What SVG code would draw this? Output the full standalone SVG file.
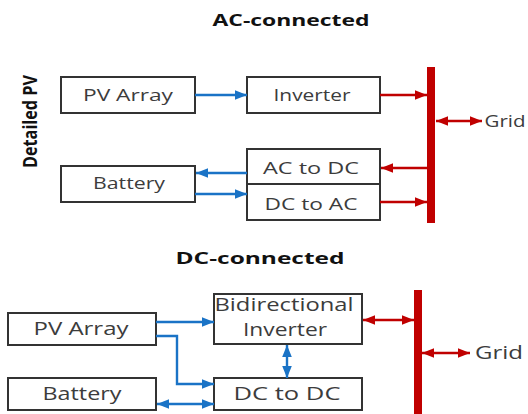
<svg xmlns="http://www.w3.org/2000/svg" width="528" height="414" viewBox="0 0 528 414">
<style>
.box{fill:#fff;stroke:#333;stroke-width:2}
.lbl{font-family:"Open Sans","Liberation Sans",sans-serif;font-size:17px;fill:#3c3c3c;text-anchor:middle}
.ttl{font-family:"Open Sans","Liberation Sans",sans-serif;font-size:16px;font-weight:bold;fill:#111;text-anchor:middle}
.b{stroke:#1a73c6;stroke-width:2.4;fill:none}
.r{stroke:#c00000;stroke-width:2.4;fill:none}
.bus{fill:#c00000}
</style>
<defs>
<marker id="ab" viewBox="0 0 10 8" refX="10" refY="4" markerWidth="12" markerHeight="10" orient="auto-start-reverse" markerUnits="userSpaceOnUse"><path d="M0,0 L10,4 L0,8 z" fill="#1a73c6"/></marker>
<marker id="ar" viewBox="0 0 10 8" refX="10" refY="4" markerWidth="12" markerHeight="10" orient="auto-start-reverse" markerUnits="userSpaceOnUse"><path d="M0,0 L10,4 L0,8 z" fill="#c00000"/></marker>
</defs>

<text class="ttl" x="291" y="26" textLength="157" lengthAdjust="spacingAndGlyphs">AC-connected</text>
<text class="ttl" x="0" y="0" transform="translate(37,121.5) rotate(-90)" style="font-size:20px" textLength="93" lengthAdjust="spacingAndGlyphs">Detailed PV</text>
<text class="ttl" x="260" y="264" textLength="169" lengthAdjust="spacingAndGlyphs">DC-connected</text>

<g id="ac-bus"><rect class="bus" x="427" y="67" width="8" height="156"/></g>
<g id="dc-bus"><rect class="bus" x="414" y="290" width="8" height="124"/></g>

<g id="ac-pv"><rect class="box" x="61" y="77" width="134" height="36"/><text class="lbl" x="128" y="101" textLength="90" lengthAdjust="spacingAndGlyphs">PV Array</text></g>
<g id="ac-inverter"><rect class="box" x="247" y="77" width="133" height="36"/><text class="lbl" x="312" y="101" textLength="77" lengthAdjust="spacingAndGlyphs">Inverter</text></g>
<g id="ac-actodc"><rect class="box" x="247" y="149" width="133" height="35"/><text class="lbl" x="311" y="174" textLength="96" lengthAdjust="spacingAndGlyphs">AC to DC</text></g>
<g id="ac-dctoac"><rect class="box" x="247" y="184" width="133" height="36"/><text class="lbl" x="311" y="210" textLength="93" lengthAdjust="spacingAndGlyphs">DC to AC</text></g>
<g id="ac-battery"><rect class="box" x="61" y="166" width="134" height="36"/><text class="lbl" x="129" y="189" textLength="72" lengthAdjust="spacingAndGlyphs">Battery</text></g>
<g id="ac-grid"><text class="lbl" x="505" y="127" textLength="41" lengthAdjust="spacingAndGlyphs">Grid</text></g>

<g id="dc-pv"><rect class="box" x="8" y="313" width="148" height="32"/><text class="lbl" x="81" y="335" style="font-size:18px" textLength="95" lengthAdjust="spacingAndGlyphs">PV Array</text></g>
<g id="dc-battery"><rect class="box" x="8" y="378" width="148" height="32"/><text class="lbl" x="82" y="400" style="font-size:18px" textLength="79" lengthAdjust="spacingAndGlyphs">Battery</text></g>
<g id="dc-bidir"><rect class="box" x="214" y="294" width="148" height="50"/><text class="lbl" x="284" y="311" style="font-size:18px" textLength="139" lengthAdjust="spacingAndGlyphs">Bidirectional</text><text class="lbl" x="285" y="336" style="font-size:18px" textLength="84" lengthAdjust="spacingAndGlyphs">Inverter</text></g>
<g id="dc-dctodc"><rect class="box" x="214" y="378" width="148" height="32"/><text class="lbl" x="287" y="400" style="font-size:18px" textLength="107" lengthAdjust="spacingAndGlyphs">DC to DC</text></g>
<g id="dc-grid"><text class="lbl" x="499" y="359" style="font-size:18px" textLength="48" lengthAdjust="spacingAndGlyphs">Grid</text></g>

<g id="connectors">
<line class="b" x1="195" y1="95" x2="247" y2="95" marker-end="url(#ab)"/>
<line class="r" x1="380" y1="95" x2="427" y2="95" marker-end="url(#ar)"/>
<line class="r" x1="436" y1="121" x2="482" y2="121" marker-start="url(#ar)" marker-end="url(#ar)"/>
<line class="r" x1="427" y1="168" x2="381" y2="168" marker-end="url(#ar)"/>
<line class="r" x1="380" y1="202" x2="427" y2="202" marker-end="url(#ar)"/>
<line class="b" x1="247" y1="173" x2="196" y2="173" marker-end="url(#ab)"/>
<line class="b" x1="195" y1="194" x2="247" y2="194" marker-end="url(#ab)"/>

<line class="b" x1="156" y1="322" x2="214" y2="322" marker-end="url(#ab)"/>
<polyline class="b" points="156,336 177,336 177,384 214,384" marker-end="url(#ab)"/>
<line class="b" x1="157" y1="404" x2="214" y2="404" marker-start="url(#ab)" marker-end="url(#ab)"/>
<line class="b" x1="287" y1="345" x2="287" y2="378" marker-start="url(#ab)" marker-end="url(#ab)"/>
<line class="r" x1="363" y1="320" x2="414" y2="320" marker-start="url(#ar)" marker-end="url(#ar)"/>
<line class="r" x1="422" y1="353" x2="470" y2="353" marker-start="url(#ar)" marker-end="url(#ar)"/>
</g>
</svg>
